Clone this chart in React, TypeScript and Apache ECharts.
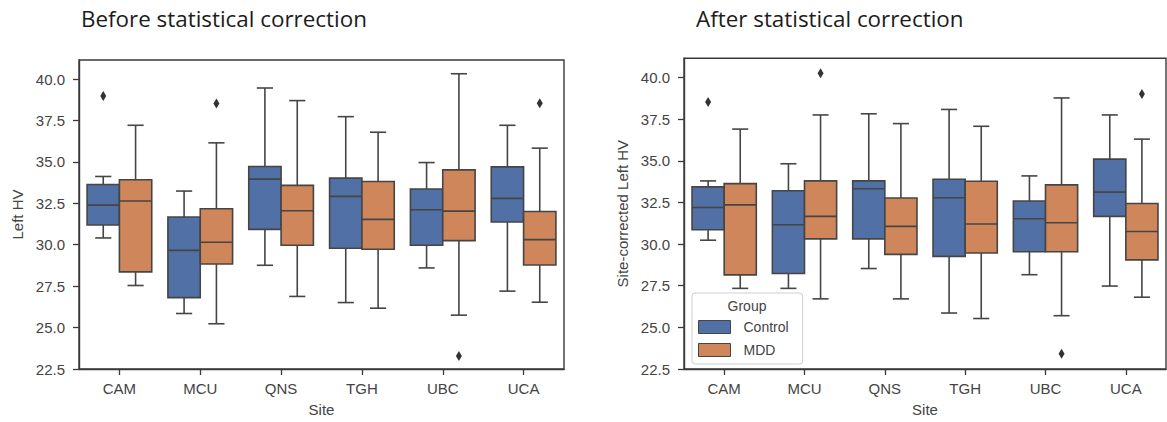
import React, { useEffect, useRef } from 'react';
import * as echarts from 'echarts';

const sites = ['CAM', 'MCU', 'QNS', 'TGH', 'UBC', 'UCA'];
const groups = ['Control', 'MDD'];
const yTicks = [22.5, 25, 27.5, 30, 32.5, 35, 37.5, 40];
const titles = ['Before statistical correction', 'After statistical correction'];
const yNames = ['Left HV', 'Site-corrected Left HV'];

// [low whisker, Q1, median, Q3, high whisker] for each site
const beforeControl = [
  [30.41, 31.19, 32.39, 33.64, 34.12],
  [25.85, 26.81, 29.66, 31.67, 33.24],
  [28.76, 30.93, 33.96, 34.72, 39.46],
  [26.51, 29.79, 32.92, 34.02, 37.73],
  [28.6, 29.97, 32.11, 33.36, 34.96],
  [27.2, 31.37, 32.8, 34.7, 37.21],
];
const beforeMDD = [
  [27.54, 28.36, 32.64, 33.92, 37.21],
  [25.23, 28.84, 30.15, 32.17, 36.15],
  [26.88, 29.97, 32.05, 33.58, 38.7],
  [26.17, 29.73, 31.53, 33.82, 36.79],
  [25.75, 30.25, 32.03, 34.52, 40.32],
  [26.53, 28.78, 30.31, 32.01, 35.83],
];
// [site index, group index, value]
const beforeOutliers = [
  [0, 0, 38.97],
  [1, 1, 38.53],
  [4, 1, 23.28],
  [5, 1, 38.54],
];
const afterControl = [
  [30.23, 30.86, 32.19, 33.43, 33.79],
  [27.34, 28.23, 31.16, 33.2, 34.82],
  [28.53, 30.31, 33.32, 33.79, 37.82],
  [25.86, 29.26, 32.78, 33.89, 38.08],
  [28.16, 29.54, 31.52, 32.58, 34.09],
  [27.48, 31.66, 33.12, 35.1, 37.75],
];
const afterMDD = [
  [27.34, 28.15, 32.35, 33.63, 36.9],
  [26.71, 30.31, 31.66, 33.79, 37.75],
  [26.71, 29.38, 31.06, 32.76, 37.23],
  [25.53, 29.46, 31.2, 33.77, 37.07],
  [25.7, 29.54, 31.28, 33.55, 38.77],
  [26.81, 29.05, 30.75, 32.43, 36.3],
];
const afterOutliers = [
  [0, 0, 38.52],
  [1, 1, 40.26],
  [4, 1, 23.41],
  [5, 1, 39.01],
];

const COLORS = ['#5171a6', '#cf865b'];
const LINE = '#454545';
const AXIS = '#3a3a3a';
const TEXT = '#444444';
const FONT = '"Liberation Sans", Arial, sans-serif';

const boxRender = (grp: number) => (params: any, api: any) => {
  const cat = api.value(0);
  const band = api.size([1, 0])[0];
  const w = band * 0.4;
  const cx = api.coord([cat, 30])[0] + (grp === 0 ? -w / 2 : w / 2);
  const y = (i: number) => api.coord([cat, api.value(i)])[1];
  const lo = y(1), q1 = y(2), med = y(3), q3 = y(4), hi = y(5);
  const cw = w * 0.5;
  const ls = { stroke: LINE, lineWidth: 1.6 };
  return {
    type: 'group',
    children: [
      { type: 'line', shape: { x1: cx, y1: q1, x2: cx, y2: lo }, style: ls },
      { type: 'line', shape: { x1: cx, y1: q3, x2: cx, y2: hi }, style: ls },
      { type: 'line', shape: { x1: cx - cw / 2, y1: lo, x2: cx + cw / 2, y2: lo }, style: ls },
      { type: 'line', shape: { x1: cx - cw / 2, y1: hi, x2: cx + cw / 2, y2: hi }, style: ls },
      {
        type: 'rect',
        shape: { x: cx - w / 2, y: q3, width: w, height: q1 - q3 },
        style: { fill: COLORS[grp], stroke: LINE, lineWidth: 1.6 },
      },
      { type: 'line', shape: { x1: cx - w / 2, y1: med, x2: cx + w / 2, y2: med }, style: ls },
    ],
  };
};

const outlierRender = (params: any, api: any) => {
  const cat = api.value(0);
  const grp = api.value(1);
  const band = api.size([1, 0])[0];
  const w = band * 0.4;
  const pt = api.coord([cat, api.value(2)]);
  const cx = pt[0] + (grp === 0 ? -w / 2 : w / 2);
  const cy = pt[1];
  return {
    type: 'polygon',
    shape: { points: [[cx, cy - 5], [cx + 3, cy], [cx, cy + 5], [cx - 3, cy]] },
    style: { fill: '#333333' },
  };
};

const grids = [
  { left: 79, top: 60, width: 485, height: 312.5 },
  { left: 684, top: 58.3, width: 482, height: 314.4 },
];

export default function App() {
  const ref = useRef<HTMLDivElement>(null);
  useEffect(() => {
    if (!ref.current) return;
    const chart = echarts.init(ref.current, undefined, { renderer: 'svg' });
    const panels = [
      { ctrl: beforeControl, mdd: beforeMDD, out: beforeOutliers },
      { ctrl: afterControl, mdd: afterMDD, out: afterOutliers },
    ];
    const series: any[] = [];
    panels.forEach((p, gi) => {
      [p.ctrl, p.mdd].forEach((arr, grp) => {
        series.push({
          type: 'custom',
          name: groups[grp],
          xAxisIndex: gi,
          yAxisIndex: gi,
          itemStyle: { color: COLORS[grp] },
          renderItem: boxRender(grp),
          encode: { x: 0, y: [1, 2, 3, 4, 5] },
          data: arr.map((v, i) => [i, ...v]),
          z: 2,
        });
      });
      series.push({
        type: 'custom',
        name: 'outliers',
        xAxisIndex: gi,
        yAxisIndex: gi,
        renderItem: outlierRender,
        encode: { x: 0, y: 2 },
        data: p.out,
        z: 3,
      });
    });
    chart.setOption({
      animation: false,
      backgroundColor: '#ffffff',
      grid: grids.map((g) => ({ ...g, show: true, borderColor: AXIS, borderWidth: 1.4, backgroundColor: 'transparent' })),
      xAxis: grids.map((g, gi) => ({
        type: 'category',
        gridIndex: gi,
        data: sites,
        boundaryGap: true,
        name: 'Site',
        nameLocation: 'middle',
        nameGap: 33,
        nameTextStyle: { color: TEXT, fontSize: 15, fontFamily: FONT },
        axisLine: { show: true, lineStyle: { color: AXIS, width: 1.4 } },
        axisTick: { show: true, alignWithLabel: true, length: 6, lineStyle: { color: AXIS, width: 1.3 } },
        axisLabel: { color: TEXT, fontSize: 15, fontFamily: FONT, margin: 12 },
        splitLine: { show: false },
      })),
      yAxis: grids.map((g, gi) => ({
        type: 'value',
        gridIndex: gi,
        min: 22.5,
        max: 41.15,
        interval: 2.5,
        name: yNames[gi],
        nameLocation: 'middle',
        nameGap: 54,
        nameTextStyle: { color: TEXT, fontSize: 15, fontFamily: FONT },
        axisLine: { show: true, lineStyle: { color: AXIS, width: 1.4 } },
        axisTick: { show: true, length: 6, customValues: yTicks, lineStyle: { color: AXIS, width: 1.3 } },
        axisLabel: {
          color: TEXT,
          fontSize: 15,
          fontFamily: FONT,
          margin: 14,
          customValues: yTicks,
          formatter: (v: number) => (yTicks.indexOf(v) >= 0 ? v.toFixed(1) : ''),
        },
        splitLine: { show: false },
      })),
      legend: {
        orient: 'vertical',
        left: 692,
        top: 293,
        icon: 'rect',
        itemWidth: 32,
        itemHeight: 13,
        itemGap: 9,
        padding: [27, 14, 7, 6],
        backgroundColor: 'rgba(255,255,255,0.85)',
        borderColor: '#cfcfcf',
        borderWidth: 1,
        borderRadius: 3,
        selectedMode: false,
        textStyle: { color: TEXT, fontSize: 14, fontFamily: FONT, padding: [0, 0, 0, 8] },
        data: groups.map((g, i) => ({
          name: g,
          itemStyle: { color: COLORS[i], borderColor: LINE, borderWidth: 1 },
        })),
        z: 10,
      },
      graphic: [
        {
          type: 'text',
          x: 81,
          y: 18,
          style: { text: titles[0], fill: '#1c1c1c', font: '22.4px "Open Sans", sans-serif', verticalAlign: 'middle' },
        },
        {
          type: 'text',
          x: 696,
          y: 18,
          style: { text: titles[1], fill: '#1c1c1c', font: '22.4px "Open Sans", sans-serif', verticalAlign: 'middle' },
        },
        {
          type: 'text',
          x: 747,
          y: 306,
          z: 20,
          style: { text: 'Group', fill: TEXT, font: '14px "Liberation Sans", Arial, sans-serif', align: 'center', verticalAlign: 'middle' },
        },
      ],
      series,
    });
    return () => chart.dispose();
  }, []);
  return (
    <div
      ref={ref}
      style={{ position: 'absolute', left: 0, top: 0, width: 1167, height: 422, background: '#fff' }}
    />
  );
}
